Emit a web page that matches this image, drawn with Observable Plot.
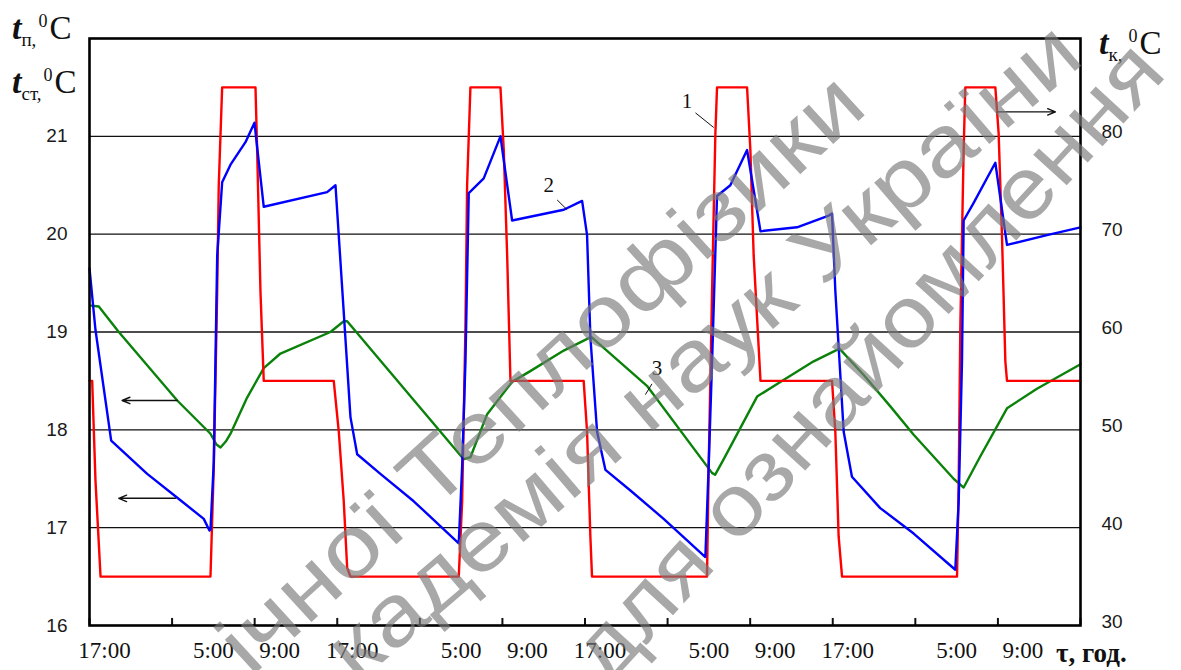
<!DOCTYPE html>
<html><head><meta charset="utf-8">
<script src="https://cdn.jsdelivr.net/npm/d3@7"></script>
<script src="https://cdn.jsdelivr.net/npm/@observablehq/plot@0.6"></script>
<style>body{margin:0;background:#fff}</style>
</head><body><div id="chart"></div>
<script>
// ---- data (time in hours from the first 17:00) ----
const leftTicks = [16, 17, 18, 19, 20, 21];
const rightTicks = [30, 40, 50, 60, 70, 80];
const xTickHours = [0, 8, 16, 24, 32, 40, 48, 56, 64, 72, 80, 88, 96];
const xLabelHours = [0, 12, 16, 24, 36, 40, 48, 60, 64, 72, 84, 88];
const xLabelTexts = ["17:00", "5:00", "9:00", "17:00", "5:00", "9:00", "17:00", "5:00", "9:00", "17:00", "5:00", "9:00"];

// curve 1 (red), right axis t_к
const redHours = [0,0.26,0.58,1.07, 11.72,12.04,12.37,12.52,12.85, 16.08,16.24,16.56,16.88, 23.66,24.15,24.63,24.96,25.28, 35.77,36.1,36.42,36.58,36.9, 39.81,40.13,40.46,40.78, 47.87,48.2,48.52,48.68, 59.82,59.98,60.31,60.63,60.79, 63.7,64.02,64.34,65.0, 71.93,72.25,72.57,72.9, 84.04,84.2,84.36,84.68,84.84, 87.75,88.07,88.4,88.72,88.88, 96];
const redValues = [55,55,44.8,35, 35,46.3,64.2,75,85, 85,78.6,64.2,55, 55,49.8,42.7,35.9,35, 35,42.7,60.6,75,85, 85,78.6,67.8,55, 55,49.8,39.1,35, 35,46.3,64.2,80.3,85, 85,78.6,67.8,55, 55,49.8,39.1,35, 35,44.5,60.6,78.6,85, 85,80.3,69.6,57,55, 55];

// curve 2 (blue), left axis
const blueHours = [0,0.58,2.1,5.59,8.81, 11.07,11.62,11.72,12.04,12.37, 12.85,13.66,15.11,15.98,16.88, 23.02,23.83,24.63,25.28,25.93, 28.18,31.41,35.77,36.1,36.42, 36.74,38.19,39.81,40.94,45.94, 47.72,48.2,48.52,49.17,49.98, 52.4,55.62,59.66,59.98,60.31, 60.79,62.08,63.7,65.0,68.54, 71.61,71.93,72.25,73.06,73.86, 76.6,79.84,83.87,84.2,84.52, 84.68,85.65,87.75,88.88,92.75, 96];
const blueValues = [19.65,19.02,17.89,17.55,17.28, 17.09,16.97,16.98,17.67,19.78, 20.53,20.71,20.94,21.14,20.28, 20.43,20.50,19.2,18.13,17.75, 17.55,17.27,16.84,17.63,18.70, 20.42,20.57,21.0,20.14,20.25, 20.34,19.99,18.95,17.98,17.59, 17.38,17.09,16.70,17.63,18.70, 20.39,20.5,20.86,20.03,20.07, 20.19,20.21,19.42,17.98,17.52, 17.2,16.94,16.57,17.27,18.7, 20.14,20.32,20.73,19.89,19.99, 20.07];

// curve 3 (green), left axis
const greenHours = [0.15,0.9,2.84,8.5,11.72, 12.3,12.69,13.2,13.66,15.27, 16.88,18.5,23.34,24.63,24.96, 36.25,36.9,38.52,40.94,42.7, 45.94,48.6,54.0,60.3,60.6, 61.44,64.67,66.92,70.15,72.65, 75.0,77.58,79.84,83.71,84.68, 86.3,88.88,91.78,96];
const greenValues = [19.27,19.26,19.0,18.3,17.96, 17.85,17.82,17.88,17.96,18.33, 18.63,18.78,19.0,19.11,19.11, 17.70,17.72,18.16,18.49,18.6, 18.81,18.95,18.45,17.56,17.54, 17.70,18.34,18.49,18.70,18.83, 18.56,18.24,17.95,17.50,17.41, 17.73,18.22,18.42,18.67];

// annotations (left-axis units)
const labelHours = [57.89, 44.48, 54.98];
const labelValues = [21.36, 20.50, 18.63];
const labelTexts = ["1", "2", "3"];
const leaderX1 = [58.7, 45.3, 54.49], leaderY1 = [21.24, 20.35, 18.47];
const leaderX2 = [60.47, 46.27, 53.85], leaderY2 = [21.09, 20.25, 18.36];
const arrowX1 = [8.49, 8.33, 87.95], arrowY1 = [18.30, 17.30, 21.25];
const arrowX2 = [3.16, 2.84, 93.57], arrowY2 = [18.30, 17.30, 21.25];

// ---- build ----
const toLeft = v => 16 + (v - 30) / 10;
const toRight = v => 30 + (v - 16) * 10;
const red = redHours.map((t, i) => ({t, v: toLeft(redValues[i])}));
const blue = blueHours.map((t, i) => ({t, v: blueValues[i]}));
const green = greenHours.map((t, i) => ({t, v: greenValues[i]}));
const xLabels = xLabelHours.map((t, i) => ({t, label: xLabelTexts[i]}));
const labels = labelHours.map((t, i) => ({t, v: labelValues[i], text: labelTexts[i]}));
const leaders = leaderX1.map((x1, i) => ({x1, y1: leaderY1[i], x2: leaderX2[i], y2: leaderY2[i]}));
const arrows = arrowX1.map((x1, i) => ({x1, y1: arrowY1[i], x2: arrowX2[i], y2: arrowY2[i]}));
const serif = "Liberation Serif, Times New Roman, serif";
const tickLen = 0.072;

const xLabelMark = (key, dx) => Plot.text(xLabels.filter(d => d.label === key), {
  x: "t", text: "label", frameAnchor: "bottom", dy: 32, dx,
  fontSize: 23, fontFamily: serif, fill: "#111"
});

const plot = Plot.plot({
  width: 1181, height: 670,
  marginLeft: 89, marginRight: 101, marginTop: 38, marginBottom: 45,
  x: {domain: [0, 96], axis: null},
  y: {domain: [16, 22]},
  style: {fontFamily: "Liberation Sans, Arial, sans-serif", background: "white", color: "#1a1a1a"},
  marks: [
    Plot.ruleY(leftTicks.filter(d => d > 16), {stroke: "#111", strokeWidth: 1.3}),
    Plot.axisY({anchor: "left", ticks: leftTicks, tickFormat: d => String(d), tickSize: 0, tickPadding: 22, fontSize: 19, label: null}),
    Plot.axisY({anchor: "right", ticks: rightTicks.map(toLeft), tickFormat: d => String(Math.round(toRight(d))),
      tickSize: 0, tickPadding: 21, fontSize: 19, label: null, dy: -4}),
    Plot.ruleX(xTickHours, {x: d => d, y1: 16, y2: 16 + tickLen, stroke: "#111", strokeWidth: 2}),
    xLabelMark("17:00", 15),
    xLabelMark("5:00", 0),
    xLabelMark("9:00", 25),
    Plot.line(green, {x: "t", y: "v", stroke: "#0a820a", strokeWidth: 2.4, strokeLinejoin: "round"}),
    Plot.line(red, {x: "t", y: "v", stroke: "#ff0000", strokeWidth: 2.4, strokeLinejoin: "round"}),
    Plot.line(blue, {x: "t", y: "v", stroke: "#0000ff", strokeWidth: 2.4, strokeLinejoin: "round"}),
    Plot.link(leaders, {x1: "x1", y1: "y1", x2: "x2", y2: "y2", stroke: "#111", strokeWidth: 1}),
    Plot.text(labels, {x: "t", y: "v", text: "text", fontSize: 21, fontFamily: serif, fill: "#111"}),
    Plot.arrow(arrows, {x1: "x1", y1: "y1", x2: "x2", y2: "y2", stroke: "#111", strokeWidth: 1.4, headLength: 9, headAngle: 45}),
    Plot.frame({stroke: "#000", strokeWidth: 2.6})
  ]
});
document.getElementById("chart").appendChild(plot);

// ---- axis titles ----
const svg = d3.select(plot);
function title(x, y, sub, gap) {
  const t = svg.append("text").attr("x", x).attr("y", y).attr("text-anchor", "start")
    .attr("font-family", serif).attr("fill", "#111");
  t.append("tspan").attr("font-style", "italic").attr("font-weight", "bold").attr("font-size", 34).text("t");
  t.append("tspan").attr("font-size", 19).attr("dy", 7).text(sub);
  t.append("tspan").attr("font-size", 18).attr("dy", -19).attr("dx", gap).text("0");
  t.append("tspan").attr("font-size", 33).attr("dy", 12).attr("dx", 2).text("C");
}
title(12, 39, "п,", 2);
title(12, 93, "ст,", 2);
title(1099, 54, "к,", 6);
svg.append("text").attr("x", 1056).attr("y", 662).attr("text-anchor", "start").attr("font-family", serif)
  .attr("font-weight", "bold").attr("font-size", 27).attr("fill", "#111").text("τ, год.");

// ---- watermark ----
const wm = [
  {text: "ічної Теплофізики", cx: 540, cy: 372, angle: -42.5, len: 840},
  {text: "кадемія наук України", cx: 702, cy: 350, angle: -40.5, len: 960},
  {text: "для ознайомлення", cx: 866, cy: 360, angle: -47.5, len: 830}
];
const g = svg.append("g").attr("fill", "#7a7a7a").attr("fill-opacity", 0.65)
  .attr("font-family", "Liberation Sans, Arial, sans-serif").attr("font-size", 86);
for (const w of wm) {
  g.append("text").attr("transform", `translate(${w.cx},${w.cy}) rotate(${w.angle})`)
    .attr("text-anchor", "middle").attr("dominant-baseline", "central")
    .attr("textLength", w.len).attr("lengthAdjust", "spacingAndGlyphs").text(w.text);
}
</script></body></html>
